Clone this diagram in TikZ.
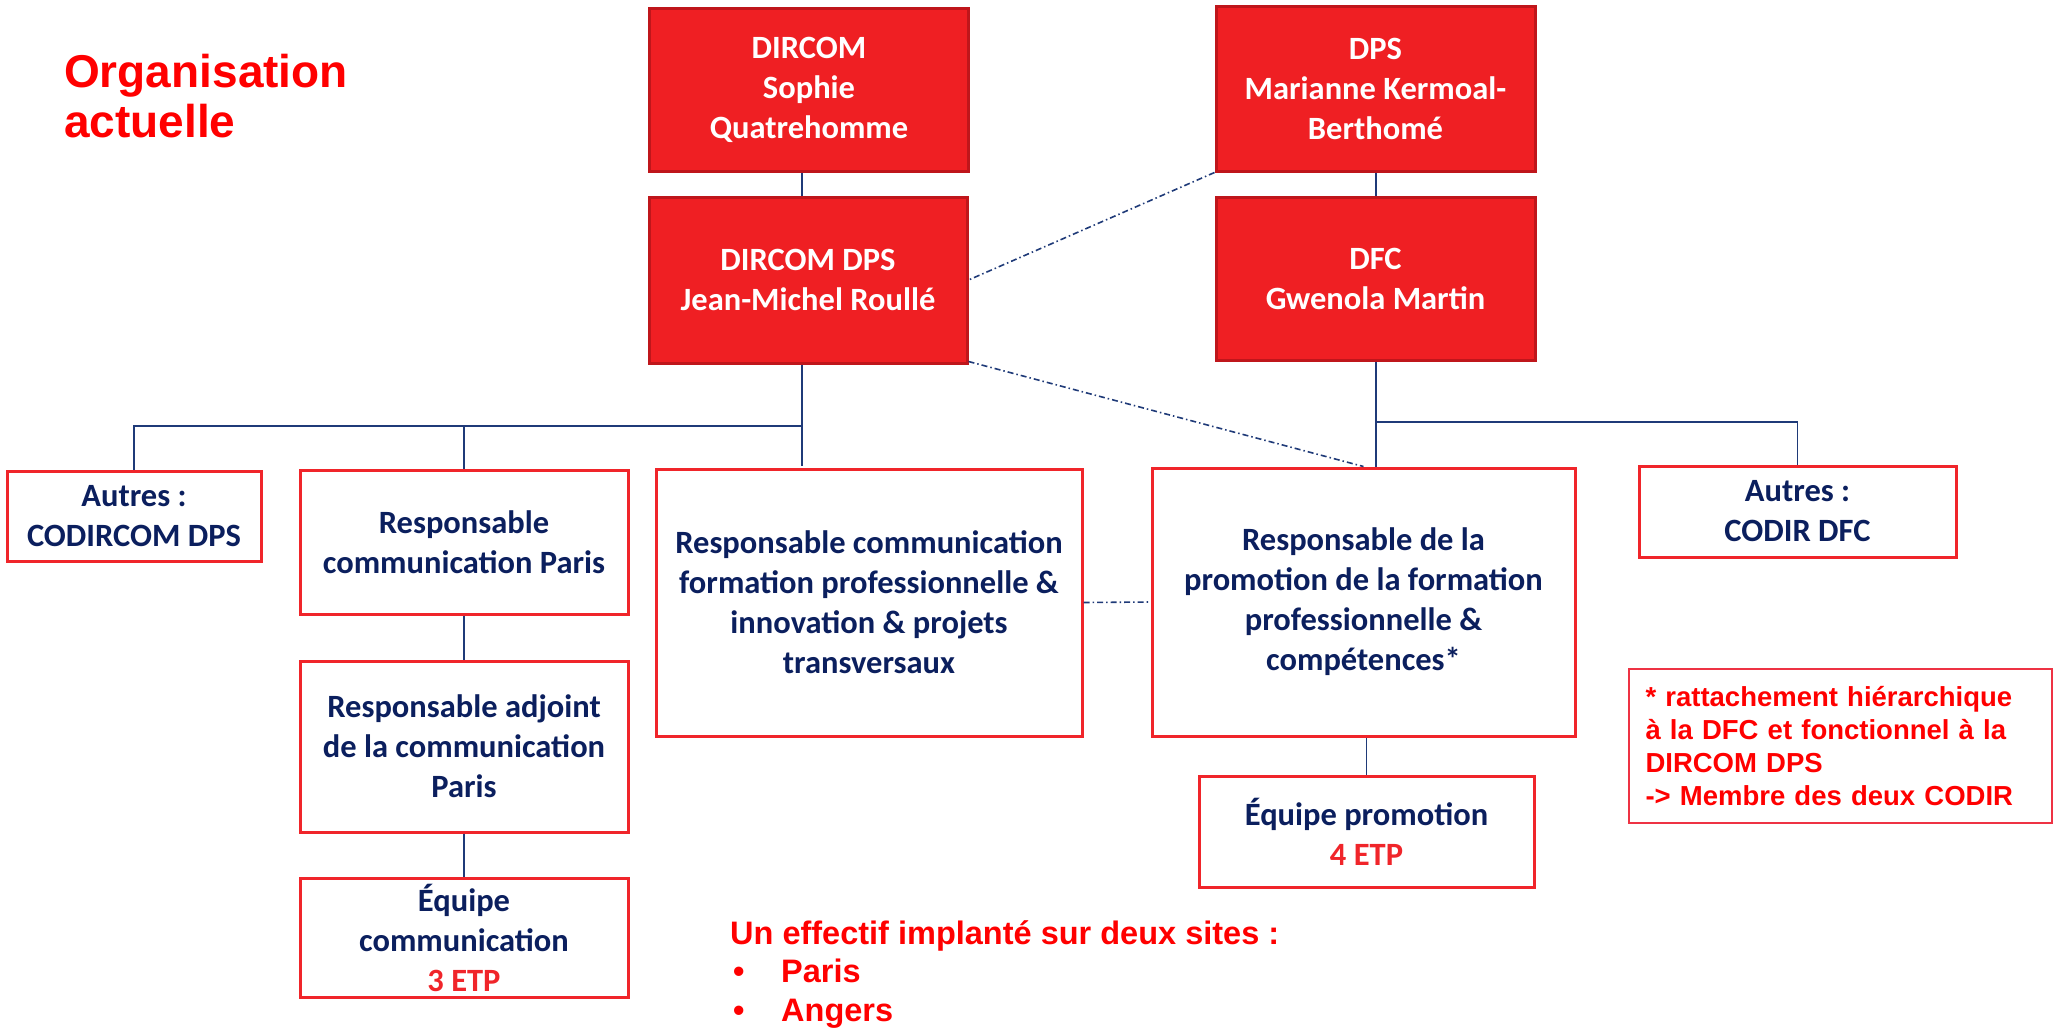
\documentclass[tikz,border=0pt]{standalone}
\usepackage{fontspec}
\setmainfont{Carlito}
\newfontfamily\arialf{Liberation Sans}
\usetikzlibrary{calc}
\definecolor{boxred}{HTML}{EF1F23}
\definecolor{boxredline}{HTML}{BF161B}
\definecolor{wred}{HTML}{F0252A}
\definecolor{navy}{HTML}{0B1F5E}
\definecolor{linenavy}{HTML}{1F3A78}
\definecolor{titlered}{HTML}{FF0000}
\definecolor{notered}{HTML}{EE3344}
\begin{document}
\begin{tikzpicture}[x=1pt,y=-1pt,
  redbox/.style={draw=boxredline, line width=3pt, fill=boxred, text=white,
    font=\bfseries\fontsize{32.5}{40}\selectfont, align=center, inner sep=0pt},
  whitebox/.style={draw=wred, line width=3pt, fill=white, text=navy,
    font=\bfseries\fontsize{32.5}{40}\selectfont, align=center, inner sep=0pt},
  conn/.style={draw=linenavy, line width=1.8pt},
  dotconn/.style={draw=linenavy, line width=1.6pt, dash pattern=on 6pt off 3pt on 1.5pt off 3pt},
  redtext/.style={text=titlered, font=\arialf\bfseries\fontsize{32.5}{39}\selectfont, inner sep=0pt}]
\useasboundingbox (0,0) rectangle (2054,1029);

% title
\node[anchor=north west, align=left, text=titlered, inner sep=0pt,
  font=\arialf\bfseries\fontsize{46}{50}\selectfont] (title) at (64,54) {Organisation\\actuelle};

% red boxes
\node[redbox, minimum width=319pt, minimum height=163pt] (dircom) at (809,89.5) {DIRCOM\\Sophie\\Quatrehomme};
\node[redbox, minimum width=318pt, minimum height=166pt] (dircomdps) at (808,280) {DIRCOM DPS\\Jean-Michel Roullé};
\node[redbox, minimum width=319pt, minimum height=165pt] (dps) at (1375.5,88.5) {DPS\\Marianne Kermoal-\\Berthomé};
\node[redbox, minimum width=319pt, minimum height=163pt] (dfc) at (1375.5,278.5) {DFC\\Gwenola Martin};

% white boxes
\node[whitebox, minimum width=254pt, minimum height=90pt] (autres1) at (134,516) {Autres :\\CODIRCOM DPS};
\node[whitebox, minimum width=328pt, minimum height=144pt] (rparis) at (464,542) {Responsable\\communication Paris};
\node[whitebox, minimum width=328pt, minimum height=171pt] (radj) at (464,746.5) {Responsable adjoint\\de la communication\\Paris};
\node[whitebox, minimum width=328pt, minimum height=119pt] (eqcom) at (464,937.5) {Équipe\\communication\\\textcolor{wred}{3 ETP}};
\node[whitebox, minimum width=426pt, minimum height=267pt] (rform) at (869,602.5) {Responsable communication\\formation professionnelle \&\\innovation \& projets\\transversaux};
\node[whitebox, minimum width=423pt, minimum height=268pt] (rpromo) at (1363.5,602) {Responsable de la\\promotion de la formation\\professionnelle \&\\compétences*};
\node[whitebox, minimum width=317pt, minimum height=91pt] (autres2) at (1797.5,511.5) {Autres :\\CODIR DFC};
\node[whitebox, minimum width=335pt, minimum height=111pt] (eqpromo) at (1366.5,831.5) {Équipe promotion\\\textcolor{wred}{4 ETP}};

% note box
\node[draw=notered, line width=2.5pt, text=titlered, align=left, inner xsep=16.5pt, inner ysep=0pt,
  text width=390pt, minimum height=154pt,
  font=\arialf\bfseries\fontsize{27.5}{33}\selectfont] (note) at (1840.5,746)
  {* rattachement hiérarchique\\à la DFC et fonctionnel à la\\DIRCOM DPS\\-> Membre des deux CODIR};

% bottom text
\node[redtext, anchor=base west] (eff) at (730,944) {Un effectif implanté sur deux sites :};
\node[redtext, anchor=base west] (b1) at (733,982) {•};
\node[redtext, anchor=base west] (paris) at (781,982) {Paris};
\node[redtext, anchor=base west] (b2) at (733,1021) {•};
\node[redtext, anchor=base west] (angers) at (781,1021) {Angers};

% solid connectors, left side
\coordinate (jL) at (802,426);
\coordinate (jLend) at (802,466);
\draw[conn] (dircom.south -| jL) -- (dircomdps.north -| jL);
\draw[conn] (dircomdps.south -| jL) -- (jLend);
\draw[conn] (autres1.north) -- (autres1.north |- jL) -- (jL);
\draw[conn] (rparis.north) -- (rparis.north |- jL);
\draw[conn] (rparis.south) -- (radj.north);
\draw[conn] (radj.south) -- (eqcom.north);

% solid connectors, right side
\coordinate (jR) at (1376,422);
\draw[conn] (dps.south -| jR) -- (dfc.north -| jR);
\draw[conn] (dfc.south -| jR) -- (rpromo.north -| jR);
\draw[conn] (jR) -- (jR -| autres2.north) -- (autres2.north);
\draw[conn] (rpromo.south -| eqpromo.north) -- (eqpromo.north);

% dash-dot connectors
\draw[dotconn] (dps.south west) -- (dircomdps.east);
\draw[dotconn] ($(dircomdps.south east)+(0,-3)$) -- (rpromo.north);
\draw[dotconn] (rform.east) -- (rpromo.west);
\end{tikzpicture}
\end{document}
